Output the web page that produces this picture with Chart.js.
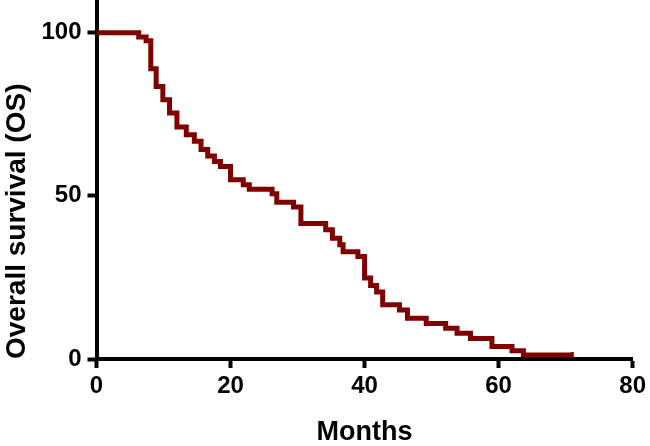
<!DOCTYPE html>
<html>
<head>
<meta charset="utf-8">
<script src="https://cdn.jsdelivr.net/npm/chart.js@4/dist/chart.umd.min.js"></script>
<style>
html,body{margin:0;padding:0;background:#fff;}
#wrap{width:650px;height:446px;position:relative;}
</style>
</head>
<body>
<div id="wrap"><canvas id="c" width="650" height="446"></canvas></div>
<script>
// Kaplan-Meier step curve: event times (months) and survival (%) after each step
const months = [0, 6.3, 7.4, 8.1, 8.9, 9.9, 10.9, 12.0, 13.4, 14.6, 15.6, 16.6, 17.6, 18.5, 20.0, 21.9, 22.8, 26.2, 26.9, 29.4, 30.5, 34.2, 35.2, 36.3, 36.8, 39.0, 40.0, 40.9, 41.8, 42.7, 45.2, 46.4, 49.2, 52.1, 53.8, 55.8, 59.0, 62.0, 63.7, 71.0];
const survival = [100, 98.7, 97.5, 88.9, 83.5, 79.4, 75.4, 71.1, 68.7, 66.7, 64.2, 62.2, 60.5, 59.0, 54.9, 53.4, 52.0, 50.6, 48.0, 46.6, 41.5, 39.6, 37.0, 35.0, 32.9, 31.4, 24.8, 22.5, 20.5, 16.6, 15.0, 12.5, 10.9, 9.4, 7.9, 6.3, 3.8, 2.5, 1.2, 1.2];
const xTicks = [0, 20, 40, 60, 80];
const yTicks = [0, 50, 100];
const xTitle = 'Months';
const yTitle = 'Overall survival (OS)';

const FONT = '"Liberation Sans", Arial, Helvetica, sans-serif';
const points = months.map((m, i) => ({x: m, y: survival[i]}));

new Chart(document.getElementById('c'), {
  type: 'line',
  data: {
    datasets: [{
      data: points,
      borderColor: '#800000',
      borderWidth: 5,
      stepped: 'before',
      pointRadius: points.map((p, i) => i === points.length - 1 ? 3 : 0),
      pointStyle: 'line',
      rotation: 90,
      pointBorderColor: '#800000',
      pointBorderWidth: 3,
      fill: false,
      tension: 0
    }]
  },
  options: {
    responsive: false,
    animation: false,
    layout: {autoPadding: false, padding: {top: 0, right: 13, bottom: 0, left: 0}},
    plugins: {legend: {display: false}, tooltip: {enabled: false}},
    scales: {
      x: {
        type: 'linear',
        min: 0, max: 80,
        afterBuildTicks: (ax) => { ax.ticks = xTicks.map(v => ({value: v})); },
        afterFit: (ax) => { ax.height = 87; },
        grid: {drawOnChartArea: false, drawTicks: true, tickLength: 9, tickWidth: 4, tickColor: '#000'},
        border: {display: true, color: '#000', width: 4},
        ticks: {color: '#000', padding: 4, maxRotation: 0, font: {family: FONT, size: 24, weight: 'bold'}},
        title: {display: true, text: xTitle, color: '#000', padding: {top: 0, bottom: 0}, font: {family: FONT, size: 27, weight: 'bold', lineHeight: 1}}
      },
      y: {
        min: 0, max: 110,
        afterBuildTicks: (ax) => { ax.ticks = yTicks.map(v => ({value: v})); },
        afterFit: (ax) => { ax.width = 96.5; ax.paddingTop = 0; ax.paddingBottom = 0; },
        grid: {drawOnChartArea: false, drawTicks: true, tickLength: 9, tickWidth: 4, tickColor: '#000'},
        border: {display: true, color: '#000', width: 4},
        ticks: {color: '#000', padding: 6, font: {family: FONT, size: 24, weight: 'bold'}},
        title: {display: true, text: yTitle, align: 'start', color: '#000', padding: {top: 0, bottom: 0}, font: {family: FONT, size: 28, weight: 'bold'}}
      }
    }
  }
});
</script>
</body>
</html>
